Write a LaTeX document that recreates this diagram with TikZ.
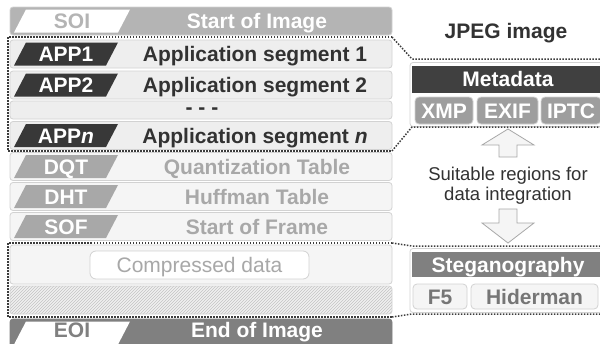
\documentclass[tikz,border=0pt]{standalone}
\usepackage{fontspec}
\setmainfont{Liberation Sans}
\usetikzlibrary{patterns}
\definecolor{rowline}{RGB}{210,210,210}
\definecolor{soifill}{RGB}{180,180,180}
\definecolor{appfill}{RGB}{238,238,238}
\definecolor{appdark}{RGB}{56,56,56}
\definecolor{textdark}{RGB}{50,50,50}
\definecolor{markerfill}{RGB}{245,245,245}
\definecolor{markergray}{RGB}{168,168,168}
\definecolor{eoifill}{RGB}{128,128,128}
\definecolor{hatchbg}{RGB}{240,240,240}
\definecolor{hatchline}{RGB}{196,196,196}
\definecolor{dotline}{RGB}{60,60,60}
\definecolor{metahead}{RGB}{64,64,64}
\definecolor{metabox}{RGB}{158,158,158}
\definecolor{steghead}{RGB}{128,128,128}
\definecolor{stegtext}{RGB}{118,118,118}

\begin{document}
\begin{tikzpicture}[x=1pt, y=-1pt,
    segrow/.style={draw=rowline, line width=0.8pt, rounded corners=3pt,
        minimum width=382pt, minimum height=28pt, inner sep=0pt},
    seglabel/.style={font=\fontsize{21}{24}\selectfont\bfseries, inner sep=0pt,
        text height=15pt, text depth=0pt},
    region/.style={draw=dotline, line width=1.5pt, dash pattern=on 1.5pt off 1.5pt},
    subbox/.style={draw=rowline, line width=0.8pt, rounded corners=4pt, inner sep=0pt,
        font=\fontsize{21}{24}\selectfont\bfseries, text height=15pt, text depth=0pt},
    blockarrow/.style={draw=markergray, fill=markerfill, line width=0.8pt, line join=miter}]
    \clip (0,0) rectangle (600,343);
    \fill[white] (0,0) rectangle (600,343);

    % segments of the file
    \node[segrow, fill=soifill] (soi) at (201,21) {};
    \fill[white] (14,32.5) -- (26,9.5) -- (130,9.5) -- (118,32.5) -- cycle;
    \node[seglabel, text=soifill] (soitag) at (72,21) {SOI};
    \node[seglabel, text=white] (soilabel) at (257,21) {Start of Image};

    \node[segrow, fill=appfill] (app1) at (201,54) {};
    \fill[appdark] (14,65.5) -- (26,42.5) -- (118,42.5) -- (106,65.5) -- cycle;
    \node[seglabel, text=white] (app1tag) at (66,54) {APP1};
    \node[seglabel, text=textdark] (app1label) at (255,54) {Application segment 1};

    \node[segrow, fill=appfill] (app2) at (201,85) {};
    \fill[appdark] (14,96.5) -- (26,73.5) -- (118,73.5) -- (106,96.5) -- cycle;
    \node[seglabel, text=white] (app2tag) at (66,85) {APP2};
    \node[seglabel, text=textdark] (app2label) at (255,85) {Application segment 2};

    \node[segrow, fill=appfill, minimum height=18pt] (appdots) at (201,110) {};
    \node[seglabel, text=textdark, text height=8pt] (appdotslabel) at (202,110) {- - -};

    \node[segrow, fill=appfill] (appn) at (201,135.5) {};
    \fill[appdark] (14,147) -- (26,124) -- (118,124) -- (106,147) -- cycle;
    \node[seglabel, text=white] (appntag) at (66,135.5) {APP\textit{n}};
    \node[seglabel, text=textdark] (appnlabel) at (255,135.5) {Application segment \textit{n}};

    \node[segrow, fill=markerfill] (dqt) at (201,166.5) {};
    \fill[markergray] (14,178) -- (26,155) -- (118,155) -- (106,178) -- cycle;
    \node[seglabel, text=white] (dqttag) at (66,166.5) {DQT};
    \node[seglabel, text=markergray] (dqtlabel) at (257,166.5) {Quantization Table};

    \node[segrow, fill=markerfill] (dht) at (201,196.5) {};
    \fill[markergray] (14,208) -- (26,185) -- (118,185) -- (106,208) -- cycle;
    \node[seglabel, text=white] (dhttag) at (66,196.5) {DHT};
    \node[seglabel, text=markergray] (dhtlabel) at (257,196.5) {Huffman Table};

    \node[segrow, fill=markerfill] (sof) at (201,226.5) {};
    \fill[markergray] (14,238) -- (26,215) -- (118,215) -- (106,238) -- cycle;
    \node[seglabel, text=white] (softag) at (66,226.5) {SOF};
    \node[seglabel, text=markergray] (soflabel) at (257,226.5) {Start of Frame};

    \node[segrow, fill=markerfill, minimum height=39pt] (comp) at (201,264.5) {};
    \node[draw=rowline, fill=white, line width=0.8pt, rounded corners=6pt,
        minimum width=219pt, minimum height=28pt, inner sep=0pt,
        font=\fontsize{21}{24}\selectfont, text=markergray, text height=15pt, text depth=0pt]
        (compdata) at (199.5,265) {Compressed data};
    \node[segrow, preaction={fill=hatchbg}, pattern=north east lines,
        pattern color=hatchline] (hatch) at (201,300) {};

    \node[segrow, fill=eoifill, draw=eoifill] (eoi) at (201,333) {};
    \fill[white] (14,344.5) -- (26,321.5) -- (130,321.5) -- (118,344.5) -- cycle;
    \node[seglabel, text=eoifill] (eoitag) at (72,330) {EOI};
    \node[seglabel, text=white] (eoilabel) at (257,330) {End of Image};

    % right side
    \node[seglabel, text=textdark] (jpeg) at (506,30.5) {JPEG image};

    \node[draw=rowline, fill=white, line width=0.8pt, rounded corners=3pt,
        minimum width=194pt, minimum height=64pt] (metabox) at (507,94.5) {};
    \node[seglabel, fill=metahead, text=white, minimum width=192pt, minimum height=27pt]
        (metahead) at (508,79) {Metadata};
    \node[subbox, fill=metabox, text=white, minimum width=58pt, minimum height=27pt]
        (xmp) at (444,110.5) {XMP};
    \node[subbox, fill=metabox, text=white, minimum width=61pt, minimum height=27pt]
        (exif) at (507.5,110.5) {EXIF};
    \node[subbox, fill=metabox, text=white, minimum width=60pt, minimum height=27pt]
        (iptc) at (571,110.5) {IPTC};

    \draw[blockarrow] (508,129) -- (534,145) -- (517,145) -- (517,157)
        -- (499,157) -- (499,145) -- (482,145) -- cycle;
    \node[font=\fontsize{18.5}{20}\selectfont, align=center, text=textdark, inner sep=0pt]
        (suitable) at (508,186) {Suitable regions for\\data integration};
    \draw[blockarrow] (508,243) -- (534,223) -- (517,223) -- (517,209)
        -- (499,209) -- (499,223) -- (482,223) -- cycle;

    \node[draw=rowline, fill=white, line width=0.8pt, rounded corners=3pt,
        minimum width=194pt, minimum height=64pt] (stegbox) at (507,280.5) {};
    \node[seglabel, fill=steghead, text=white, minimum width=192pt, minimum height=25pt]
        (steghead) at (508,264.5) {Steganography};
    \node[subbox, fill=markerfill, text=stegtext, minimum width=54pt, minimum height=25pt]
        (ffive) at (440,296.5) {F5};
    \node[subbox, fill=markerfill, text=stegtext, minimum width=127pt, minimum height=25pt]
        (hiderman) at (534.5,296.5) {Hiderman};

    % dotted regions and their links
    \coordinate (metaTL) at (412,59);
    \coordinate (metaBL) at (412,127);
    \coordinate (stegTL) at (412,246);
    \coordinate (stegBL) at (412,314);
    \draw[region] (392,37) -- (8,37) -- (8,151) -- (392,151);
    \draw[region] (392,37) -- (metaTL) -- (605,59);
    \draw[region] (392,151) -- (metaBL) -- (605,127);
    \draw[region] (392,243) -- (8,243) -- (8,317) -- (392,317);
    \draw[region] (392,243) -- (stegTL) -- (605,246);
    \draw[region] (392,317) -- (stegBL) -- (605,314);
\end{tikzpicture}
\end{document}
